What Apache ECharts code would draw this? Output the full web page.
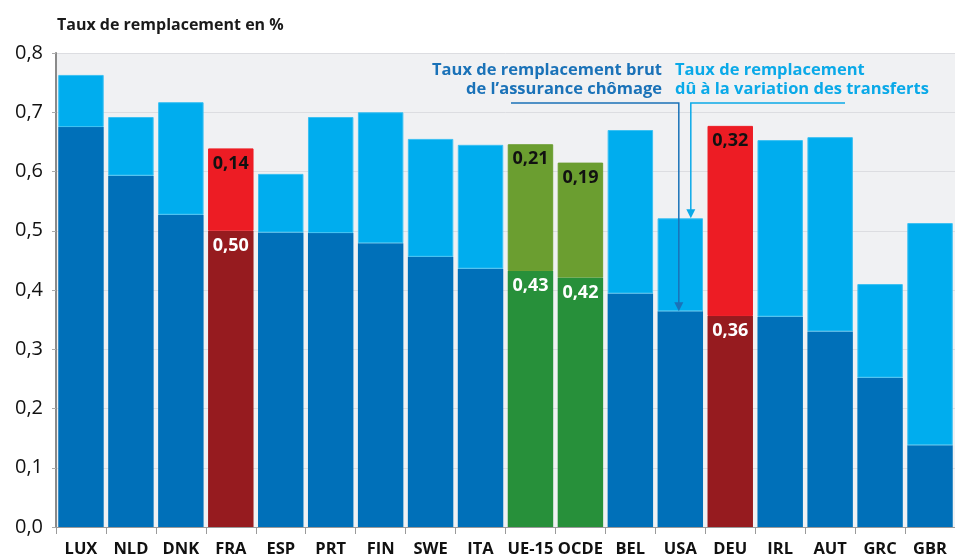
<!DOCTYPE html>
<html><head><meta charset="utf-8">
<script src="https://cdn.jsdelivr.net/npm/echarts@6/dist/echarts.min.js"></script>
<style>html,body{margin:0;padding:0;background:#fff}#c{width:955px;height:560px}</style>
</head><body><div id="c"></div>
<script>
const categories = ['LUX','NLD','DNK','FRA','ESP','PRT','FIN','SWE','ITA','UE-15','OCDE','BEL','USA','DEU','IRL','AUT','GRC','GBR'];
const grossRate = [0.675,0.593,0.527,0.50,0.497,0.496,0.479,0.456,0.436,0.432,0.421,0.394,0.364,0.356,0.355,0.330,0.252,0.138];
const transferRate = [0.088,0.099,0.190,0.139,0.099,0.196,0.221,0.199,0.209,0.214,0.194,0.276,0.157,0.321,0.298,0.328,0.158,0.375];
const redCountries = ['FRA','DEU'];
const greenAggregates = ['UE-15','OCDE'];
const yTicks = [0,0.1,0.2,0.3,0.4,0.5,0.6,0.7,0.8];

const FONT = '"Open Sans", "Noto Sans", sans-serif';
const fmt2 = v => v.toFixed(2).replace('.', ',');

function darkItem(v, i) {
  const c = categories[i];
  let color = '#0070b9', label = {show:false};
  if (redCountries.includes(c)) { color = '#961b1f'; label = {show:true, position:'insideTop', distance:6, color:'#fff'}; }
  if (greenAggregates.includes(c)) { color = '#27903a'; label = {show:true, position:'insideTop', distance:6, color:'#fff'}; }
  return {value:v, itemStyle:{color}, label};
}
function lightItem(v, i) {
  const c = categories[i];
  let color = '#00adee', border = '#3cc0f2', label = {show:false};
  if (redCountries.includes(c)) { color = '#ed1c24'; border = '#ed1c24'; label = {show:true, position:'insideTop', distance:6, color:'#111'}; }
  if (greenAggregates.includes(c)) { color = '#6b9e30'; border = '#6b9e30'; label = {show:true, position:'insideTop', distance:6, color:'#111'}; }
  return {value:v, itemStyle:{color, borderColor:border, borderWidth:1}, label};
}

const chart = echarts.init(document.getElementById('c'), null, {renderer:'canvas'});
const option = {
  animation:false,
  textStyle:{fontFamily:FONT},
  title:{text:'Taux de remplacement en %', left:52, top:12,
    textStyle:{fontFamily:FONT, fontSize:16, fontWeight:'bold', color:'#1a1a1a'}},
  grid:{left:56, right:0, top:53, bottom:33, show:true, backgroundColor:'#f0f1f3', borderWidth:0, containLabel:false, outerBoundsMode:'none'},
  xAxis:{type:'category', data:categories,
    axisLine:{show:true, lineStyle:{color:'#9a9a9a', width:1}},
    axisTick:{show:true, length:7, lineStyle:{color:'#9a9a9a'}},
    axisLabel:{interval:0, margin:14, fontFamily:FONT, fontSize:16.5, fontWeight:'bold', color:'#111'},
    splitLine:{show:false}},
  yAxis:{type:'value', min:yTicks[0], max:yTicks[yTicks.length-1], interval:0.1,
    axisLine:{show:true, lineStyle:{color:'#8a8a8a', width:2}},
    axisTick:{show:true, length:4, lineStyle:{color:'#aaa'}},
    axisLabel:{margin:13, fontFamily:FONT, fontSize:20, color:'#111', formatter:v=>v.toFixed(1).replace('.',',')},
    splitLine:{show:true, lineStyle:{color:'#dcdde1', width:1}}},
  series:[
    {name:'Taux de remplacement brut de l’assurance chômage', type:'bar', stack:'t', barCategoryGap:'9%',
     data:grossRate.map(darkItem),
     label:{fontFamily:FONT, fontSize:18, fontWeight:'bold', formatter:p=>fmt2(p.value)}},
    {name:'Taux de remplacement dû à la variation des transferts', type:'bar', stack:'t', barCategoryGap:'9%',
     data:transferRate.map(lightItem),
     label:{fontFamily:FONT, fontSize:18, fontWeight:'bold', formatter:p=>fmt2(p.value)}}
  ]
};
chart.setOption(option);

// Annotation connectors (callouts), positioned relative to USA bar
const iUSA = categories.indexOf('USA');
const ux = chart.convertToPixel({xAxisIndex:0}, categories[iUSA]);
const yDark = chart.convertToPixel({yAxisIndex:0}, grossRate[iUSA]);
const yTotal = chart.convertToPixel({yAxisIndex:0}, grossRate[iUSA] + transferRate[iUSA]);
const lineY = 103;
const DARK = '#1a72b8', LIGHT = '#0aa9e8';
const xd = ux - 1.5, xl = ux + 10.5;
function arrowHead(x, y, color) {
  return {type:'polygon', shape:{points:[[x-4.5,y-9],[x+4.5,y-9],[x,y]]}, style:{fill:color}, z:100};
}
const AF = 'bold 16.5px '+FONT;
chart.setOption({graphic:[
  {type:'polyline', shape:{points:[[511,lineY],[xd,lineY],[xd,yDark-8]]}, style:{stroke:DARK, lineWidth:1.5, fill:null}, z:100},
  arrowHead(xd, yDark, DARK),
  {type:'polyline', shape:{points:[[845,lineY],[xl,lineY],[xl,yTotal-8]]}, style:{stroke:LIGHT, lineWidth:1.5, fill:null}, z:100},
  arrowHead(xl, yTotal, LIGHT),
  {type:'text', x:662, y:70, style:{text:'Taux de remplacement brut', fill:DARK, font:AF, align:'right', verticalAlign:'middle'}, z:100},
  {type:'text', x:662, y:89, style:{text:'de l’assurance chômage', fill:DARK, font:AF, align:'right', verticalAlign:'middle'}, z:100},
  {type:'text', x:675, y:70, style:{text:'Taux de remplacement', fill:LIGHT, font:AF, align:'left', verticalAlign:'middle'}, z:100},
  {type:'text', x:675, y:89, style:{text:'dû à la variation des transferts', fill:LIGHT, font:AF, align:'left', verticalAlign:'middle'}, z:100}
]});
</script>
</body></html>
